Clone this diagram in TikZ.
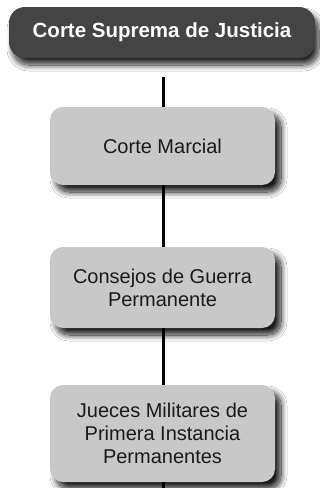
\documentclass[tikz,border=0pt]{standalone}
\usepackage{fontspec}
\setmainfont{Liberation Sans}
\usetikzlibrary{shadows.blur}
\definecolor{darkbox}{HTML}{444444}
\definecolor{lightbox}{HTML}{C8C8C8}
\definecolor{boxtext}{HTML}{1A1A1A}
\begin{document}
\begin{tikzpicture}[x=1pt,y=-1pt,
  topbox/.style={rectangle, rounded corners=16pt, fill=darkbox, text=white,
    font=\fontsize{20.5}{23}\selectfont\bfseries, inner sep=0pt, align=center,
    minimum width=306pt, minimum height=51pt,
    blur shadow={shadow xshift=4pt, shadow yshift=-7pt, shadow blur radius=6pt, shadow blur steps=14, shadow opacity=85}},
  orgbox/.style={rectangle, rounded corners=13pt, fill=lightbox, text=boxtext,
    font=\fontsize{20}{23}\selectfont, inner sep=0pt, align=center,
    minimum width=225pt,
    blur shadow={shadow xshift=6pt, shadow yshift=-7pt, shadow blur radius=6pt, shadow blur steps=14, shadow opacity=90}},
  link/.style={draw=black, line width=3pt}]
\useasboundingbox (0,0) rectangle (320,488);
\fill[white] (0,0) rectangle (320,488);
\coordinate (s1) at (163,77);
\coordinate (endb) at (163,488);
\node[topbox] (top) at (162,32.5) {Corte Suprema de Justicia};
\node[orgbox, minimum height=78pt] (cm) at (162.5,146) {Corte Marcial};
\node[orgbox, minimum height=81pt] (cg) at (162.5,287.5) {Consejos de Guerra\\Permanente};
\node[orgbox, minimum height=97pt] (jm) at (162.5,433.5) {Jueces Militares de\\Primera Instancia\\Permanentes};
\draw[link] (s1) -- (cm.north -| s1);
\draw[link] (cm.south -| s1) -- (cg.north -| s1);
\draw[link] (cg.south -| s1) -- (jm.north -| s1);
\draw[link] (jm.south -| s1) -- (endb);
\end{tikzpicture}
\end{document}
